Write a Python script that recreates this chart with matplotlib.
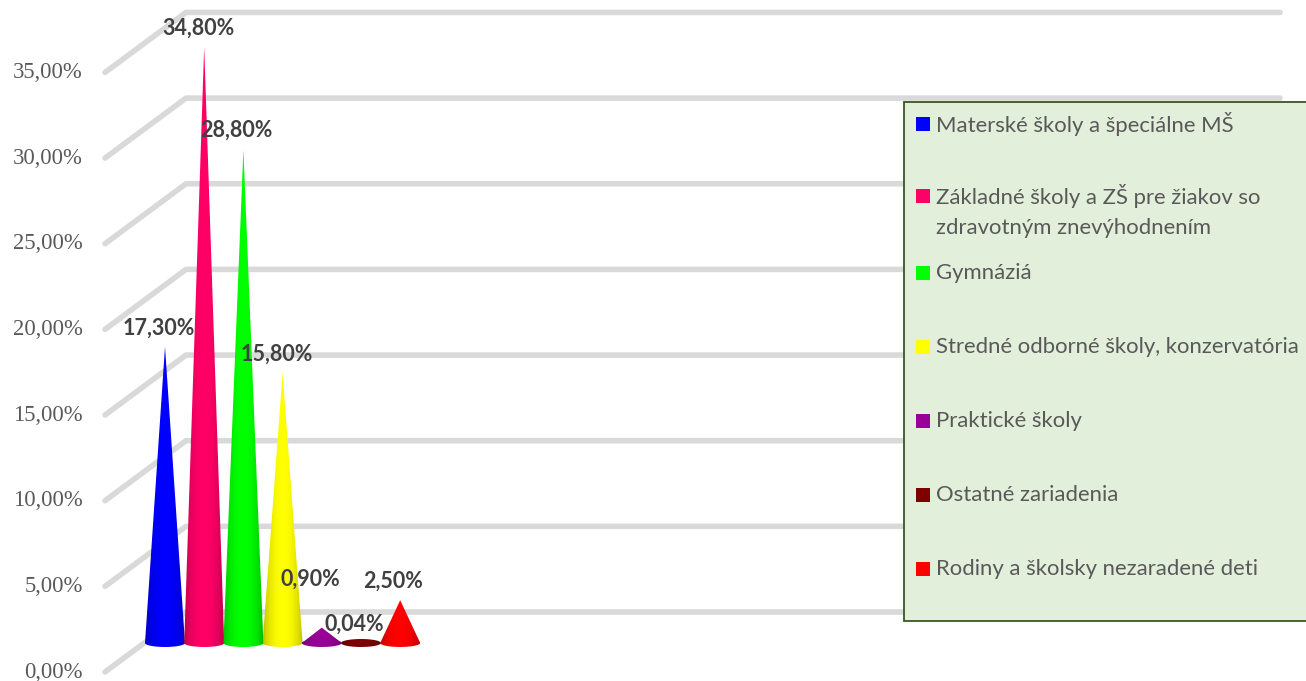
import numpy as np
import matplotlib
matplotlib.use("Agg")
import matplotlib.pyplot as plt
from matplotlib.patches import PathPatch, Rectangle
from matplotlib.path import Path

categories = ["Materské školy a špeciálne MŠ",
              "Základné školy a ZŠ pre žiakov so\nzdravotným znevýhodnením",
              "Gymnáziá",
              "Stredné odborné školy, konzervatória",
              "Praktické školy",
              "Ostatné zariadenia",
              "Rodiny a školsky nezaradené deti"]
values = [17.30, 34.80, 28.80, 15.80, 0.90, 0.04, 2.50]
value_labels = ["17,30%", "34,80%", "28,80%", "15,80%", "0,90%", "0,04%", "2,50%"]
colors = ["#0000FF", "#FF0066", "#00FF00", "#FFFF00", "#990099", "#7F0000", "#FF0000"]
tick_values = [0, 5, 10, 15, 20, 25, 30, 35]
tick_labels = ["0,00%", "5,00%", "10,00%", "15,00%", "20,00%", "25,00%", "30,00%", "35,00%"]

# label shift from the tip of each cone, in pixels
label_shift = [(-6, 18), (-6, 19), (-7, 19), (-6, 18), (-11, 48), (-7, 18), (-7, 19)]
legend_y = [124, 196, 273, 347, 421, 495, 569]

W, H = 1306, 681
PX_Y = 17.13   # pixels per percent
PX_X = 39.2    # pixels per category


def px_x(p):
    return (p - 165) / PX_X


def px_y(p):
    return (672 - p) / PX_Y


fig = plt.figure(figsize=(W / 100, H / 100), dpi=100)
ax = fig.add_axes([0, 0, 1, 1])
ax.set_axis_off()
xlim = (px_x(0), px_x(W))
ylim = (px_y(H), px_y(0))

# floor and wall lines
depth_x = px_x(186) - px_x(105)
depth_y = 60 / PX_Y
x0 = px_x(105)
x1 = px_x(1280)
for t, lab in zip(tick_values, tick_labels):
    ax.plot([x0, x0 + depth_x, x1], [t, t + depth_y, t + depth_y], color="#D9D9D9",
            lw=4, solid_capstyle="round", solid_joinstyle="round", zorder=1)
    ax.text(px_x(83), t, lab, ha="right", va="center", fontsize=16.3,
            family="Liberation Serif", color="#595959", zorder=2)

# cones
base = px_y(643)
r = 0.51
ry = 4 / PX_Y
for i, (v, c) in enumerate(zip(values, colors)):
    tip = base + v
    xs = np.linspace(-r, r, 81)
    low = base - ry * np.sqrt(1 - (xs / r) ** 2)
    up = np.maximum(base + ry * np.sqrt(1 - (xs / r) ** 2), tip - np.abs(xs) / r * v)
    pts = np.r_[np.c_[i + xs, low], np.c_[i + xs[::-1], up[::-1]]]
    patch = PathPatch(Path(pts, closed=False), transform=ax.transData, fc="none", ec="none")
    ax.add_patch(patch)
    rgb = np.array(matplotlib.colors.to_rgb(c))
    shade = 0.72 + 0.28 * np.sin(np.linspace(0, np.pi, 64)) ** 0.6
    grad = (rgb[None, None, :] * shade[None, :, None])
    im = ax.imshow(grad, extent=(i - r, i + r, base - ry, max(tip, base + ry)), aspect="auto",
                   interpolation="bilinear", zorder=3)
    im.set_clip_path(patch)

# value labels
for i, (v, lab, sh) in enumerate(zip(values, value_labels, label_shift)):
    ax.annotate(lab, xy=(i, base + v), xytext=sh, textcoords="offset pixels", ha="center",
                va="center", fontsize=15.5, fontweight="bold", family="Lato", color="#404040",
                zorder=5)

# legend box
ax.add_patch(Rectangle((px_x(904), px_y(621)), px_x(1307) - px_x(904), px_y(102) - px_y(621),
                       fc="#E2EFDA", ec="#385723", lw=1.3, zorder=6))
for name, c, ly in zip(categories, colors, legend_y):
    ax.add_patch(Rectangle((px_x(916), px_y(ly + 7)), px_x(930) - px_x(916), 14 / PX_Y,
                           fc=c, ec="none", zorder=7))
    ax.text(px_x(936), px_y(ly), name.split("\n")[0], ha="left", va="center", fontsize=15.9,
            family="Lato", color="#595959", zorder=7)
    if "\n" in name:
        ax.text(px_x(936), px_y(ly + 32), name.split("\n")[1], ha="left", va="center", fontsize=15.9,
                family="Lato", color="#595959", zorder=7)

ax.set_xlim(xlim)
ax.set_ylim(ylim)
fig.savefig("out.png", dpi=100)
